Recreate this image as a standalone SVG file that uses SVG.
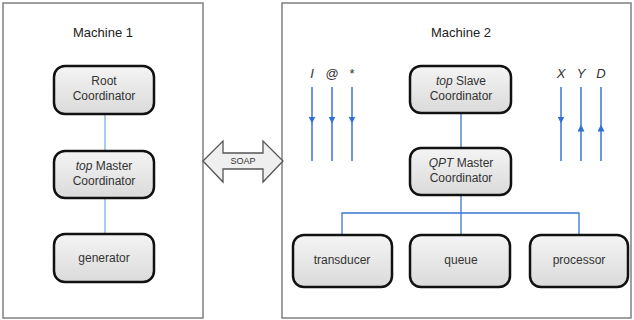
<svg xmlns="http://www.w3.org/2000/svg" width="634" height="320" viewBox="0 0 634 320">
<defs>
<linearGradient id="g" x1="0" y1="0" x2="0" y2="1">
<stop offset="0" stop-color="#f4f4f4"/>
<stop offset="1" stop-color="#dadada"/>
</linearGradient>
<marker id="ad" viewBox="0 0 8 8" refX="4" refY="4" markerWidth="7" markerHeight="7" orient="auto" markerUnits="userSpaceOnUse">
<path d="M0,0 L8,4 L0,8 Z" fill="#2f6fd6"/>
</marker>
<style>
.mach{fill:#fff;stroke:#808080;stroke-width:1.5}
.node rect{fill:url(#g);stroke:#111;stroke-width:2.5}
.t{font-family:"Liberation Sans",Arial,sans-serif;font-size:12px;fill:#333;text-anchor:middle}
.h{font-family:"Liberation Sans",Arial,sans-serif;font-size:13px;fill:#222;text-anchor:middle}
.sig{font-family:"Liberation Sans",Arial,sans-serif;font-size:13px;fill:#333;text-anchor:middle;font-style:italic}
.lc{stroke:#8db8ea;stroke-width:1.5;fill:none}
.bc{stroke:#3a74d4;stroke-width:1.3;fill:none}
.s{stroke:#3a74d4;stroke-width:1.5;fill:none}
</style>
</defs>
<rect width="634" height="320" fill="#fff"/>
<g id="machine1">
<rect class="mach" x="3" y="3" width="200" height="315"/>
<text class="h" x="103" y="37">Machine 1</text>
</g>
<g id="machine2">
<rect class="mach" x="282" y="3" width="349" height="315"/>
<text class="h" x="461" y="37">Machine 2</text>
</g>
<g id="soap">
<path d="M203,161 L223,141 L223,153 L263,153 L263,141 L283,161 L263,182 L263,169 L223,169 L223,182 Z" fill="#efefef" stroke="#555" stroke-width="1.3" stroke-linejoin="miter"/>
<text class="t" x="243" y="164" style="font-size:9px">SOAP</text>
</g>
<g id="connectors">
<line class="lc" x1="105" y1="114" x2="105" y2="151"/>
<line class="lc" x1="105" y1="198" x2="105" y2="234"/>
<line class="bc" x1="461" y1="113" x2="461" y2="148"/>
<line class="bc" x1="461" y1="195" x2="461" y2="235"/>
<polyline class="bc" points="342,235 342,213 579,213 579,235"/>
</g>
<g id="signals">
<text class="sig" x="312" y="78">I</text>
<text class="sig" x="332" y="78" style="font-style:normal">@</text>
<text class="sig" x="352" y="78" style="font-style:normal">*</text>
<path class="s" d="M312,87 V120" marker-end="url(#ad)"/><path class="s" d="M312,120 V161"/>
<path class="s" d="M332,87 V120" marker-end="url(#ad)"/><path class="s" d="M332,120 V161"/>
<path class="s" d="M352,87 V120" marker-end="url(#ad)"/><path class="s" d="M352,120 V161"/>
<text class="sig" x="561" y="78">X</text>
<text class="sig" x="581" y="78">Y</text>
<text class="sig" x="601" y="78">D</text>
<path class="s" d="M561,87 V120" marker-end="url(#ad)"/><path class="s" d="M561,120 V161"/>
<path class="s" d="M581,161 V128" marker-end="url(#ad)"/><path class="s" d="M581,128 V87"/>
<path class="s" d="M601,161 V128" marker-end="url(#ad)"/><path class="s" d="M601,128 V87"/>
</g>
<g id="root" class="node">
<rect x="54" y="66" width="100" height="48" rx="11"/>
<text class="t" x="104" y="85">Root</text>
<text class="t" x="104" y="100">Coordinator</text>
</g>
<g id="topMaster" class="node">
<rect x="54" y="151" width="100" height="47" rx="11"/>
<text class="t" x="104" y="170"><tspan font-style="italic">top</tspan> Master</text>
<text class="t" x="104" y="185">Coordinator</text>
</g>
<g id="generator" class="node">
<rect x="54" y="234" width="100" height="48" rx="11"/>
<text class="t" x="104" y="262">generator</text>
</g>
<g id="topSlave" class="node">
<rect x="410" y="66" width="101" height="47" rx="11"/>
<text class="t" x="461" y="85"><tspan font-style="italic">top</tspan> Slave</text>
<text class="t" x="461" y="100">Coordinator</text>
</g>
<g id="qptMaster" class="node">
<rect x="410" y="148" width="101" height="47" rx="11"/>
<text class="t" x="461" y="167"><tspan font-style="italic">QPT</tspan> Master</text>
<text class="t" x="461" y="182">Coordinator</text>
</g>
<g id="transducer" class="node">
<rect x="293" y="235" width="99" height="52" rx="11"/>
<text class="t" x="342" y="264">transducer</text>
</g>
<g id="queue" class="node">
<rect x="410" y="235" width="100" height="52" rx="11"/>
<text class="t" x="461" y="264">queue</text>
</g>
<g id="processor" class="node">
<rect x="530" y="235" width="98" height="52" rx="11"/>
<text class="t" x="579" y="264">processor</text>
</g>
</svg>
